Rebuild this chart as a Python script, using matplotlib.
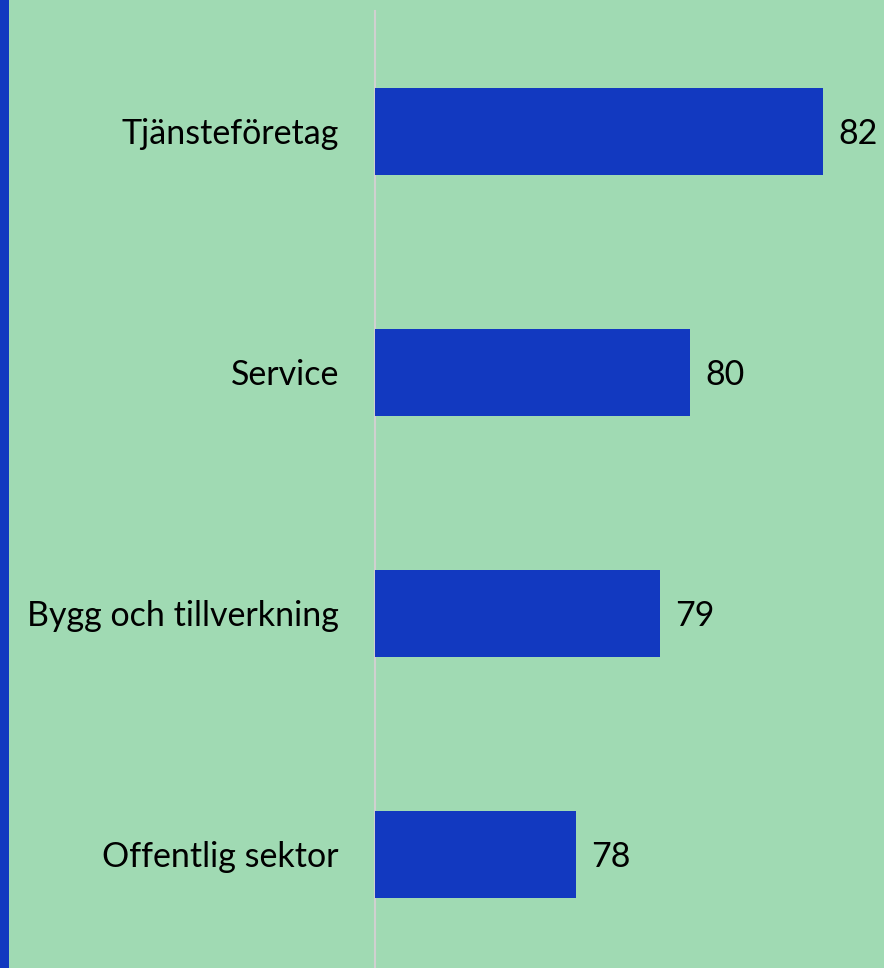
import matplotlib.pyplot as plt
from matplotlib.patches import Rectangle

# Data
categories = ["Tjänsteföretag", "Service", "Bygg och tillverkning", "Offentlig sektor"]
values = [82.0, 79.92, 79.45, 78.14]
value_labels = ["82", "80", "79", "78"]

BG = "#A0DAB3"
BAR = "#1239C0"

W, H = 884, 968
DPI = 100
FS = 24.5

plt.rcParams["font.family"] = ["Lato", "DejaVu Sans"]

fig = plt.figure(figsize=(W / DPI, H / DPI), dpi=DPI, facecolor=BG)

# axes spans from the grey line (x=375) to the right edge, starting 11 px from the top
left = 375 / W
top = 1 - 11 / H
ax = fig.add_axes([left, 0, 1 - left, top])
ax.set_facecolor(BG)

ypos = list(range(len(categories)))
ax.barh(ypos, values, height=0.357, color=BAR, zorder=3)

ax.set_xlim(75, 82.95)
ax.set_ylim(3.471, -0.5)

for y, v, lab in zip(ypos, values, value_labels):
    ax.annotate(lab, xy=(v, y), xytext=(15, -3), textcoords="offset pixels",
                ha="left", va="center", fontsize=FS, color="black")

ax.set_yticks(ypos)
ax.set_yticklabels(categories, fontsize=FS)
ax.tick_params(axis="y", length=0, pad=26)
ax.set_xticks([])

for side in ["top", "right", "bottom"]:
    ax.spines[side].set_visible(False)
ax.spines["left"].set_color("#D0D0D0")
ax.spines["left"].set_linewidth(1.5)

# dark blue stripe at the far left edge
fig.patches.append(Rectangle((0, 0), 9 / W, 1, transform=fig.transFigure,
                             facecolor=BAR, edgecolor="none"))

fig.savefig("out.png", dpi=DPI, facecolor=BG)
